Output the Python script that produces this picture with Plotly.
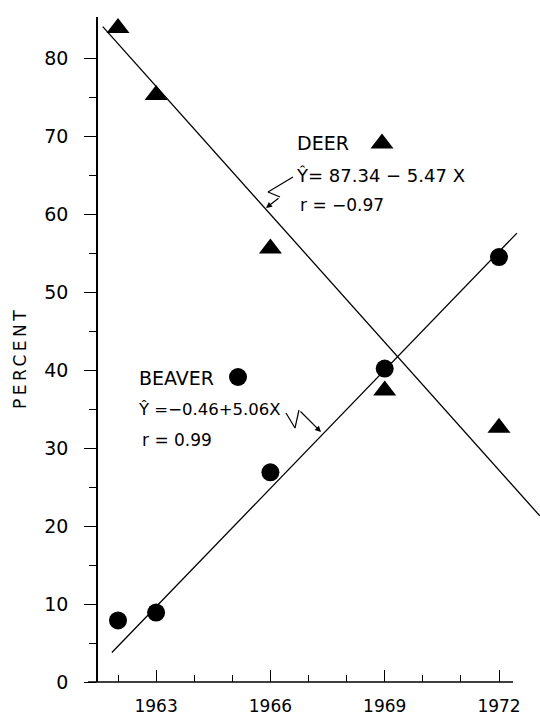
import plotly.graph_objects as go

# ---- data ----
years = [1962, 1963, 1966, 1969, 1972]
deer = [83.9, 75.3, 55.6, 37.4, 32.6]
beaver = [7.9, 8.9, 26.9, 40.2, 54.5]
deer_a, deer_b = 87.34, -5.47
beaver_a, beaver_b = -0.46, 5.06
base_year = 1961
deer_fit_span = [1961.6, 1973.07]
beaver_fit_span = [1961.84, 1972.47]
major_x = [1963, 1966, 1969, 1972]
minor_x = [1962, 1964, 1965, 1967, 1968, 1970, 1971]
major_y = [0, 10, 20, 30, 40, 50, 60, 70, 80]
minor_y = [5, 15, 25, 35, 45, 55, 65, 75]

# ---- layout geometry (pixels) ----
W, H = 540, 715
ML, MR, MT, MB = 88, 0, 17, 33
PW = W - ML - MR
PX_PER_YEAR = 38.1
X0 = 1962 - (118 - ML) / PX_PER_YEAR
X1 = X0 + PW / PX_PER_YEAR
Y1 = 85.3
PX_PER_UNIT = (H - MT - MB) / Y1
BOTTOM = H - MB


def dx(px):
    return X0 + (px - ML) / PX_PER_YEAR


def dy(py):
    return (BOTTOM - py) / PX_PER_UNIT


def fit(a, b, span):
    xs = list(span)
    ys = [a + b * (x - base_year) for x in xs]
    return xs, ys


FONT = "DejaVu Sans, Liberation Sans, sans-serif"
fig = go.Figure()

# regression lines
for a, b, span in [(deer_a, deer_b, deer_fit_span), (beaver_a, beaver_b, beaver_fit_span)]:
    xs, ys = fit(a, b, span)
    fig.add_trace(go.Scatter(x=xs, y=ys, mode="lines",
                             line=dict(color="black", width=1.3),
                             showlegend=False, hoverinfo="skip"))

# data points
fig.add_trace(go.Scatter(x=years, y=deer, mode="markers", cliponaxis=False,
                         marker=dict(symbol="triangle-up", size=20, color="black"),
                         showlegend=False))
fig.add_trace(go.Scatter(x=years, y=beaver, mode="markers", cliponaxis=False,
                         marker=dict(symbol="circle", size=18, color="black"),
                         showlegend=False))

# key markers next to labels
fig.add_trace(go.Scatter(x=[dx(382)], y=[dy(143.5)], mode="markers", cliponaxis=False,
                         marker=dict(symbol="triangle-up", size=20, color="black"),
                         showlegend=False, hoverinfo="skip"))
fig.add_trace(go.Scatter(x=[dx(238)], y=[dy(377)], mode="markers", cliponaxis=False,
                         marker=dict(symbol="circle", size=18, color="black"),
                         showlegend=False, hoverinfo="skip"))

# squiggle leaders
deer_sq = [(293, 177), (268, 192), (280, 197)]
deer_tip = (266, 208)
beaver_sq = [(286, 413), (295, 428), (299, 410)]
beaver_tip = (321, 432)
for pts in (deer_sq, beaver_sq):
    fig.add_trace(go.Scatter(x=[dx(p[0]) for p in pts], y=[dy(p[1]) for p in pts],
                             mode="lines", line=dict(color="black", width=1.2),
                             cliponaxis=False, showlegend=False, hoverinfo="skip"))
for pts, tip in ((deer_sq, deer_tip), (beaver_sq, beaver_tip)):
    fig.add_annotation(x=dx(tip[0]), y=dy(tip[1]), ax=dx(pts[-1][0]), ay=dy(pts[-1][1]),
                       xref="x", yref="y", axref="x", ayref="y", text="",
                       showarrow=True, arrowhead=2, arrowsize=1, arrowwidth=1.2,
                       arrowcolor="black")

# text labels
labels = [
    ("DEER", 295, 142.5, 19),
    ("Ŷ= 87.34 − 5.47 X", 294, 175, 18),
    ("r = −0.97", 298, 205, 17),
    ("BEAVER", 137, 378, 19),
    ("Ŷ =−0.46+5.06X", 136, 409, 16.5),
    ("r = 0.99", 140, 440, 17),
]
for txt, px, py, sz in labels:
    fig.add_annotation(x=dx(px), y=dy(py), xref="x", yref="y", text=txt,
                       showarrow=False, xanchor="left", yanchor="middle",
                       font=dict(family=FONT, size=sz, color="black"))

# y-axis title (paper coordinates, left of the plot area)
fig.add_annotation(x=(20 - ML) / PW, y=(BOTTOM - 358) / (H - MT - MB),
                   xref="paper", yref="paper", xanchor="center", yanchor="middle",
                   text='<span style="letter-spacing:3.5px">PERCENT</span>',
                   textangle=-90, showarrow=False,
                   font=dict(family=FONT, size=17, color="black"))

# x-axis baseline (extends left of the y axis, ends before the right edge)
fig.add_shape(type="line", xref="paper", yref="paper",
              x0=0, x1=(513 - ML) / PW, y0=0, y1=0,
              line=dict(color="black", width=1.5))

fig.update_layout(
    width=W, height=H,
    margin=dict(l=ML, r=MR, t=MT, b=MB, pad=0),
    paper_bgcolor="white", plot_bgcolor="white",
    showlegend=False,
    xaxis=dict(range=[X0, X1], showgrid=False, zeroline=False, showline=False,
               tickmode="array", tickvals=major_x, ticktext=[str(v) for v in major_x],
               ticks="inside", ticklen=12, tickwidth=1.3, tickcolor="black",
               minor=dict(tickmode="array", tickvals=minor_x, ticks="inside",
                          ticklen=7, tickwidth=1.3, tickcolor="black"),
               ticklabelstandoff=12,
               tickfont=dict(family=FONT, size=17, color="black")),
    yaxis=dict(range=[0, Y1], showgrid=False, zeroline=False, showline=True,
               linecolor="black", linewidth=1.5,
               anchor="free", position=(97 - ML) / PW,
               tickmode="array", tickvals=major_y, ticktext=[str(v) for v in major_y],
               ticks="outside", ticklen=12, tickwidth=1.3, tickcolor="black",
               minor=dict(tickmode="array", tickvals=minor_y, ticks="outside",
                          ticklen=7, tickwidth=1.3, tickcolor="black"),
               ticklabelstandoff=12,
               tickfont=dict(family=FONT, size=19, color="black")),
)

fig.write_html("out.html", config={"displayModeBar": False},
               post_script="document.body.style.margin='0';document.body.style.padding='0';")
